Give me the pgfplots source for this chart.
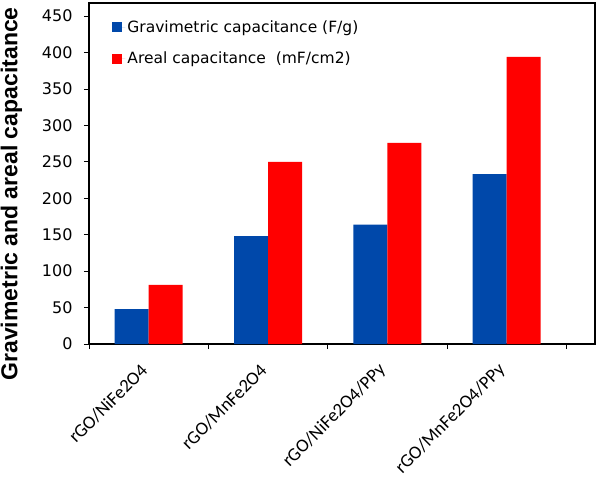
\documentclass[border=0pt]{standalone}
\usepackage{pgfplots}
\pgfplotsset{compat=1.18}
\usepackage{fontspec}
\setmainfont{DejaVu Sans}
\newfontfamily\calibri{Carlito}
\newfontfamily\arialb{Liberation Sans}
\definecolor{gblue}{RGB}{0,72,170}
\definecolor{ared}{RGB}{255,0,0}
\begin{document}
\begin{tikzpicture}
\begin{axis}[
  scale only axis, width=506pt, height=341pt,
  ybar=0pt, bar width=34pt,
  xmin=-0.5, xmax=3.74, ymin=0, ymax=468,
  xtick={0,1,2,3},
  xticklabels={rGO/NiFe2O4, rGO/MnFe2O4, rGO/NiFe2O4/PPy, rGO/MnFe2O4/PPy},
  minor xtick={-0.5,0.5,1.5,2.5,3.5},
  ytick={0,50,...,450},
  tick align=outside, xtick pos=bottom, ytick pos=left,
  major tick length=5pt, minor tick length=5pt,
  every major x tick/.append style={draw=none},
  axis line style={line width=1.2pt},
  tick style={black, line width=0.9pt},
  /pgf/number format/assume math mode=true,
  yticklabel style={font=\fontsize{16}{18}\selectfont, xshift=-8pt},
  xticklabel style={font=\calibri\fontsize{18.5}{21}\selectfont, xshift=-2pt, yshift=-16pt, rotate=45, anchor=east},
  ylabel={Gravimetric and areal capacitance},
  ylabel style={font=\arialb\bfseries\fontsize{23}{26}\selectfont, at={(ticklabel cs:0.44)}},
  ylabel shift=13pt,
  legend image code/.code={\fill[#1] (0pt,-5pt) rectangle (10pt,5pt); \path (0pt,0pt) -- (13pt,0pt);},
  legend style={at={(axis description cs:0.04,0.96)}, anchor=north west, draw=none, fill=none,
    font=\fontsize{15.5}{18}\selectfont, row sep=14pt},
  legend cell align=left,
]
\addplot[fill=gblue, draw=none] coordinates {(0,48) (1,148) (2,164) (3,233)};
\addplot[fill=ared, draw=none] coordinates {(0,81) (1,250) (2,276) (3,394)};
\legend{Gravimetric capacitance (F/g), Areal capacitance\ \ (mF/cm2)}
\coordinate (O) at (rel axis cs:0,0);
\coordinate (T) at (rel axis cs:1,1);
\end{axis}
\pgfresetboundingbox
\path ([xshift=-89pt,yshift=-133pt]O) rectangle ([xshift=3pt,yshift=3pt]T);
\end{tikzpicture}
\end{document}
